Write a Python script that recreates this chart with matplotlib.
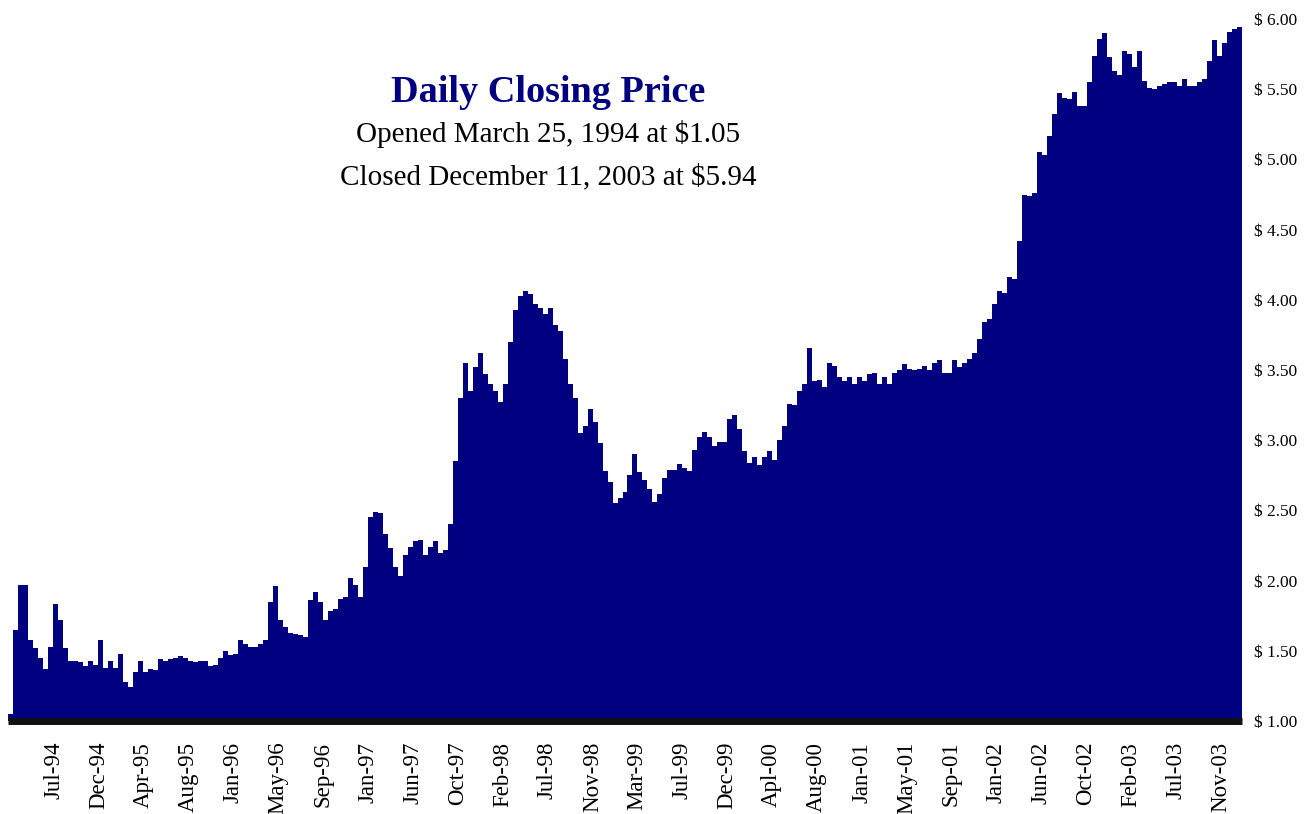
import matplotlib
matplotlib.use("Agg")
import matplotlib.pyplot as plt
import pandas as pd

# ---------------- data ----------------
start_date = "1994-03-25"
end_date = "2003-12-11"

# closing price, sampled at equal steps from start_date to end_date
close_prices = [
    1.05, 1.65, 1.97, 1.97, 1.58, 1.52, 1.45, 1.37, 1.53, 1.83,
    1.72, 1.52, 1.43, 1.43, 1.42, 1.39, 1.43, 1.40, 1.58, 1.38,
    1.43, 1.38, 1.48, 1.28, 1.24, 1.35, 1.43, 1.35, 1.37, 1.36,
    1.44, 1.43, 1.44, 1.45, 1.46, 1.45, 1.43, 1.42, 1.43, 1.43,
    1.39, 1.40,
    1.45, 1.50, 1.47, 1.48, 1.58, 1.55, 1.53, 1.53, 1.55, 1.58,
    1.85, 1.96, 1.72, 1.67, 1.63, 1.62, 1.61, 1.60, 1.86, 1.92,
    1.85, 1.72, 1.78, 1.80, 1.87, 1.88, 2.02, 1.97, 1.88, 2.10,
    2.45, 2.49, 2.48, 2.33, 2.23, 2.10, 2.03, 2.18, 2.24, 2.28,
    2.29, 2.18, 2.24, 2.28, 2.20, 2.22, 2.40, 2.85, 3.30, 3.55,
    3.35, 3.52, 3.62, 3.47, 3.40, 3.35, 3.27, 3.40, 3.70, 3.93,
    4.03, 4.06, 4.04, 3.97, 3.94, 3.90, 3.94, 3.82, 3.78, 3.58,
    3.40, 3.30, 3.05, 3.10, 3.22, 3.13, 2.98, 2.78, 2.70, 2.55,
    2.59, 2.63, 2.75, 2.90, 2.77, 2.72, 2.65, 2.56, 2.62, 2.73,
    2.79, 2.79, 2.83, 2.80, 2.78, 2.93, 3.02, 3.06, 3.02, 2.96,
    2.99, 2.99, 3.15, 3.18, 3.08, 2.92, 2.84, 2.88, 2.82, 2.88,
    2.92, 2.86, 3.00, 3.10, 3.26, 3.25, 3.35, 3.40, 3.66, 3.42,
    3.43,
    3.38, 3.55, 3.53, 3.45, 3.42, 3.45, 3.40, 3.45, 3.42, 3.47,
    3.48, 3.40, 3.45, 3.40, 3.48, 3.50, 3.54, 3.51, 3.50, 3.51,
    3.53, 3.50, 3.55, 3.57, 3.48, 3.48, 3.57, 3.52, 3.55, 3.58,
    3.62, 3.72, 3.84, 3.86, 3.97, 4.06, 4.05, 4.16, 4.15, 4.42,
    4.75, 4.74, 4.76, 5.05, 5.03, 5.17, 5.32, 5.47, 5.44, 5.43,
    5.48, 5.38, 5.38, 5.55, 5.74, 5.86, 5.90, 5.73, 5.63, 5.60,
    5.77, 5.75, 5.66, 5.77, 5.56, 5.51, 5.50, 5.52, 5.54, 5.55,
    5.55, 5.52, 5.57, 5.52, 5.52, 5.55, 5.57, 5.70, 5.85, 5.74,
    5.83, 5.91, 5.93, 5.94,
]

tick_labels = ["Jul-94", "Dec-94", "Apr-95", "Aug-95", "Jan-96", "May-96",
               "Sep-96", "Jan-97", "Jun-97", "Oct-97", "Feb-98", "Jul-98",
               "Nov-98", "Mar-99", "Jul-99", "Dec-99", "Apl-00", "Aug-00",
               "Jan-01", "May-01", "Sep-01", "Jan-02", "Jun-02", "Oct-02",
               "Feb-03", "Jul-03", "Nov-03"]

price_ticks = [1.00, 1.50, 2.00, 2.50, 3.00, 3.50, 4.00, 4.50, 5.00, 5.50, 6.00]

title = "Daily Closing Price"
subtitle1 = "Opened March 25, 1994 at $1.05"
subtitle2 = "Closed December 11, 2003 at $5.94"

# ---------------- plot ----------------
NAVY = "#000080"
SERIF = ["Liberation Serif", "DejaVu Serif"]
plt.rcParams["font.family"] = SERIF

W, H = 1305, 814
fig = plt.figure(figsize=(W / 100, H / 100), dpi=100)
ax = fig.add_axes([8 / W, (H - 721) / H, (1242 - 8) / W, (721 - 19) / H])

edges = pd.date_range(start_date, end_date, periods=len(close_prices) + 1)
vals = list(close_prices) + [close_prices[-1]]
ax.fill_between(edges, vals, 1.0, step="post", color=NAVY, lw=0)

ax.set_xlim(edges[0], edges[-1])
ax.set_ylim(1.0, 6.0)

# category-style month labels, evenly spaced along the axis
tick_pos = pd.date_range(pd.Timestamp(start_date) + pd.Timedelta(days=132),
                         periods=len(tick_labels), freq="129D")
ax.set_xticks(tick_pos)
ax.set_xticklabels(tick_labels, rotation=90, fontsize=16.5, va="top", ha="center")
ax.tick_params(axis="x", length=0, pad=15)

ax.yaxis.tick_right()
ax.set_yticks(price_ticks)
ax.set_yticklabels([f"$ {v:.2f}" for v in price_ticks], fontsize=12.5)
ax.tick_params(axis="y", length=0, pad=9)

for s in ["top", "left", "right"]:
    ax.spines[s].set_visible(False)
ax.spines["bottom"].set_linewidth(5)
ax.spines["bottom"].set_color("#111111")
ax.spines["bottom"].set_capstyle("butt")

fig.text(548 / W, 1 - 92 / H, title, ha="center", va="center",
         fontsize=27.5, fontweight="bold", color=NAVY)
fig.text(548 / W, 1 - 134 / H, subtitle1, ha="center", va="center", fontsize=21)
fig.text(548 / W, 1 - 177 / H, subtitle2, ha="center", va="center", fontsize=21)

fig.savefig("out.png", dpi=100)
